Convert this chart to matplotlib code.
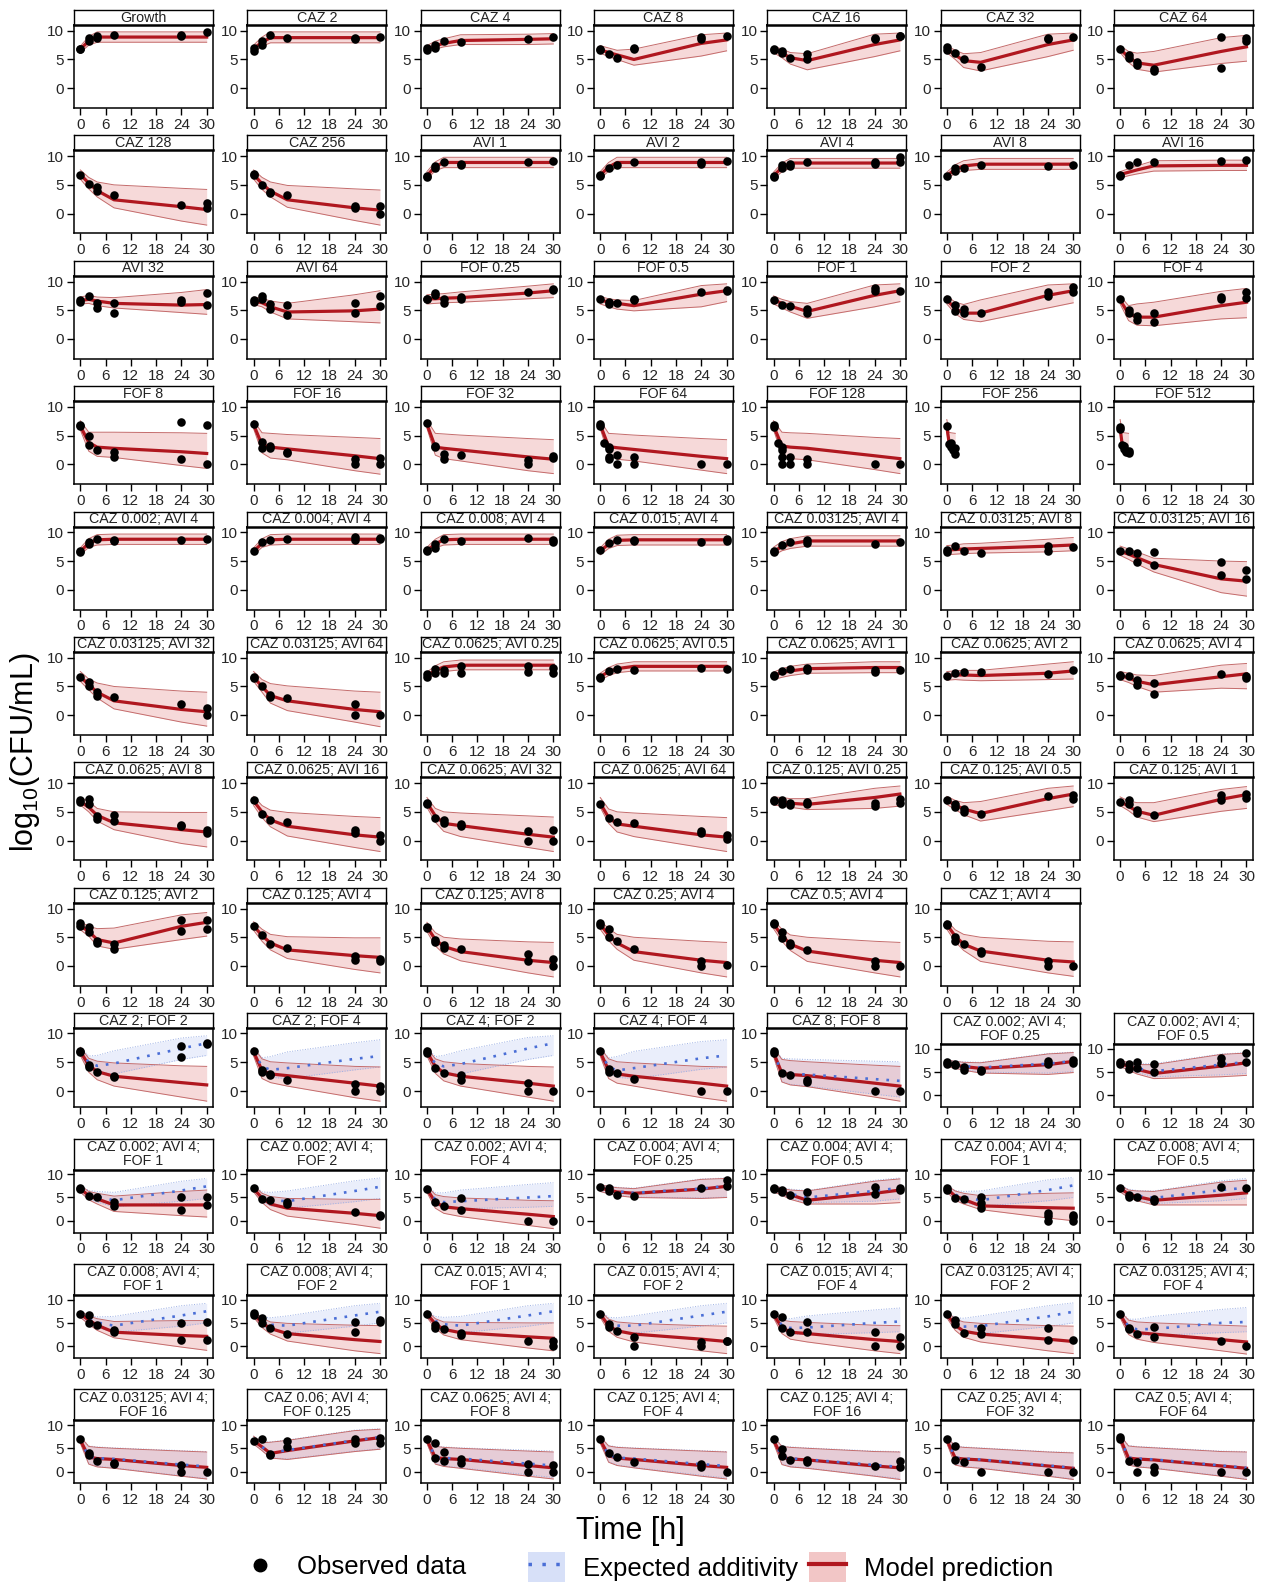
import matplotlib.pyplot as plt
from matplotlib.lines import Line2D
from matplotlib.patches import Patch

plt.rcParams['font.family'] = ['Liberation Sans', 'DejaVu Sans']
plt.rcParams['mathtext.fontset'] = 'custom'
plt.rcParams['mathtext.rm'] = 'Liberation Sans'
plt.rcParams['mathtext.it'] = 'Liberation Sans:italic'

# sampling times of the model curves (h)
times = [0, 2, 4, 8, 24, 30]
times_short = [0, 0.5, 1, 2]
short_panels = ['FOF 256', 'FOF 512']

titles = [
    'Growth', 'CAZ 2', 'CAZ 4', 'CAZ 8', 'CAZ 16', 'CAZ 32', 'CAZ 64',
    'CAZ 128', 'CAZ 256', 'AVI 1', 'AVI 2', 'AVI 4', 'AVI 8', 'AVI 16',
    'AVI 32', 'AVI 64', 'FOF 0.25', 'FOF 0.5', 'FOF 1', 'FOF 2', 'FOF 4',
    'FOF 8', 'FOF 16', 'FOF 32', 'FOF 64', 'FOF 128', 'FOF 256', 'FOF 512',
    'CAZ 0.002; AVI 4', 'CAZ 0.004; AVI 4', 'CAZ 0.008; AVI 4', 'CAZ 0.015; AVI 4',
    'CAZ 0.03125; AVI 4', 'CAZ 0.03125; AVI 8', 'CAZ 0.03125; AVI 16',
    'CAZ 0.03125; AVI 32', 'CAZ 0.03125; AVI 64', 'CAZ 0.0625; AVI 0.25', 'CAZ 0.0625; AVI 0.5',
    'CAZ 0.0625; AVI 1', 'CAZ 0.0625; AVI 2', 'CAZ 0.0625; AVI 4',
    'CAZ 0.0625; AVI 8', 'CAZ 0.0625; AVI 16', 'CAZ 0.0625; AVI 32', 'CAZ 0.0625; AVI 64',
    'CAZ 0.125; AVI 0.25', 'CAZ 0.125; AVI 0.5', 'CAZ 0.125; AVI 1',
    'CAZ 0.125; AVI 2', 'CAZ 0.125; AVI 4', 'CAZ 0.125; AVI 8', 'CAZ 0.25; AVI 4',
    'CAZ 0.5; AVI 4', 'CAZ 1; AVI 4',
    # triple / combination panels (with expected additivity)
    'CAZ 2; FOF 2', 'CAZ 2; FOF 4', 'CAZ 4; FOF 2', 'CAZ 4; FOF 4', 'CAZ 8; FOF 8',
    'CAZ 0.002; AVI 4;\nFOF 0.25', 'CAZ 0.002; AVI 4;\nFOF 0.5',
    'CAZ 0.002; AVI 4;\nFOF 1', 'CAZ 0.002; AVI 4;\nFOF 2', 'CAZ 0.002; AVI 4;\nFOF 4',
    'CAZ 0.004; AVI 4;\nFOF 0.25', 'CAZ 0.004; AVI 4;\nFOF 0.5', 'CAZ 0.004; AVI 4;\nFOF 1',
    'CAZ 0.008; AVI 4;\nFOF 0.5',
    'CAZ 0.008; AVI 4;\nFOF 1', 'CAZ 0.008; AVI 4;\nFOF 2', 'CAZ 0.015; AVI 4;\nFOF 1',
    'CAZ 0.015; AVI 4;\nFOF 2', 'CAZ 0.015; AVI 4;\nFOF 4', 'CAZ 0.03125; AVI 4;\nFOF 2',
    'CAZ 0.03125; AVI 4;\nFOF 4',
    'CAZ 0.03125; AVI 4;\nFOF 16', 'CAZ 0.06; AVI 4;\nFOF 0.125', 'CAZ 0.0625; AVI 4;\nFOF 8',
    'CAZ 0.125; AVI 4;\nFOF 4', 'CAZ 0.125; AVI 4;\nFOF 16', 'CAZ 0.25; AVI 4;\nFOF 32',
    'CAZ 0.5; AVI 4;\nFOF 64',
]

model = [
    [6.8, 8.2, 8.9, 8.9, 8.9, 8.9], [6.9, 8.0, 8.8, 8.8, 8.8, 8.8], [6.8, 7.4, 7.8, 8.3, 8.5, 8.6],
    [6.7, 6.2, 5.8, 5.0, 7.8, 8.4], [6.8, 6.1, 5.3, 4.8, 7.6, 8.4], [6.8, 5.8, 4.8, 4.5, 7.6, 8.4],
    [6.8, 5.4, 4.4, 4.0, 6.4, 7.2],
    [6.8, 5.3, 4.0, 2.4, 1.2, 0.7], [6.8, 5.2, 3.9, 2.4, 1.0, 0.6], [6.6, 8.2, 8.9, 8.9, 8.9, 8.9],
    [6.7, 8.1, 8.9, 8.9, 8.9, 8.9], [6.6, 8.0, 8.8, 8.8, 8.8, 8.8], [6.6, 7.7, 8.3, 8.6, 8.6, 8.6],
    [6.8, 7.2, 7.6, 8.3, 8.4, 8.4],
    [6.7, 6.9, 6.6, 6.2, 5.9, 6.0], [6.6, 6.3, 5.6, 4.7, 4.9, 5.2], [7.0, 7.0, 7.1, 7.2, 8.0, 8.4],
    [6.8, 6.4, 6.2, 5.8, 7.8, 8.4], [6.8, 6.2, 5.7, 4.8, 7.6, 8.4], [6.8, 5.3, 4.5, 4.5, 7.6, 8.4],
    [6.8, 4.4, 3.8, 3.8, 5.8, 6.4],
    [6.7, 3.8, 3.0, 2.8, 2.2, 1.9], [6.9, 3.4, 3.0, 2.7, 1.5, 1.0], [7.0, 3.0, 2.8, 2.5, 1.3, 0.9],
    [6.9, 3.1, 2.9, 2.6, 1.4, 1.0], [6.7, 3.2, 3.0, 2.8, 1.5, 1.0], [6.6, 4.0, 3.3, 2.5],
    [6.3, 3.4, 2.9, 2.2],
    [6.7, 8.1, 8.7, 8.8, 8.8, 8.8], [6.7, 8.1, 8.7, 8.8, 8.8, 8.8], [6.8, 8.0, 8.7, 8.8, 8.8, 8.8],
    [6.8, 7.9, 8.6, 8.7, 8.7, 8.7], [6.7, 7.5, 8.0, 8.5, 8.5, 8.5], [6.9, 7.0, 7.1, 7.2, 7.6, 7.8],
    [6.7, 6.2, 5.6, 4.4, 1.9, 1.5],
    [6.7, 5.3, 4.0, 2.5, 1.0, 0.6], [6.6, 5.0, 3.4, 2.5, 1.0, 0.6], [6.9, 7.8, 8.4, 8.7, 8.7, 8.7],
    [6.7, 7.6, 8.1, 8.5, 8.5, 8.5], [6.9, 7.4, 7.7, 8.1, 8.3, 8.3], [6.9, 7.0, 7.0, 6.9, 7.3, 7.7],
    [6.9, 6.5, 5.9, 5.3, 6.7, 7.2],
    [6.8, 5.8, 4.4, 3.1, 1.9, 1.5], [6.9, 5.0, 3.6, 2.5, 1.0, 0.6], [6.6, 4.3, 3.0, 2.6, 1.1, 0.6],
    [6.5, 4.0, 2.9, 2.5, 1.0, 0.6], [6.9, 6.7, 6.5, 6.3, 7.5, 8.1], [7.0, 6.2, 5.5, 4.7, 7.3, 8.1],
    [6.8, 6.0, 5.1, 4.4, 7.2, 8.0],
    [7.0, 6.0, 4.6, 4.0, 6.9, 7.6], [7.0, 5.3, 4.0, 2.8, 1.8, 1.5], [6.8, 4.6, 3.4, 2.5, 1.0, 0.6],
    [7.2, 5.4, 4.0, 2.5, 1.0, 0.6], [7.3, 5.3, 3.8, 2.6, 1.0, 0.6], [7.2, 5.2, 3.8, 2.6, 1.0, 0.7],
    [6.9, 4.5, 3.4, 2.6, 1.5, 1.1], [6.8, 3.6, 3.0, 2.7, 1.4, 0.9], [6.8, 4.3, 3.2, 2.6, 1.4, 0.9],
    [6.8, 3.6, 3.0, 2.6, 1.4, 0.9], [6.7, 3.1, 2.9, 2.7, 1.4, 0.9], [6.9, 6.5, 6.2, 5.8, 6.6, 7.3],
    [6.9, 6.2, 5.6, 4.7, 6.3, 7.0],
    [6.9, 5.4, 4.7, 3.4, 3.4, 3.4], [6.9, 4.9, 3.6, 2.7, 1.6, 1.1], [6.8, 4.0, 3.0, 2.6, 1.4, 0.9],
    [7.0, 6.6, 6.2, 5.9, 6.8, 7.4], [6.9, 6.3, 5.6, 4.4, 5.9, 6.6], [6.9, 5.3, 4.6, 3.2, 2.8, 2.7],
    [6.9, 5.8, 5.2, 4.4, 5.5, 6.0],
    [6.9, 5.6, 4.5, 3.0, 2.3, 2.1], [6.9, 5.0, 3.8, 2.7, 1.4, 1.0], [6.9, 4.8, 3.6, 2.9, 2.0, 1.7],
    [6.9, 4.4, 3.3, 2.6, 1.5, 1.0], [6.8, 4.0, 3.0, 2.7, 1.4, 1.0], [6.8, 4.5, 3.2, 2.6, 1.5, 1.0],
    [6.8, 3.8, 2.9, 2.6, 1.4, 0.9],
    [6.8, 3.1, 2.8, 2.6, 1.3, 0.9], [6.6, 5.3, 3.9, 4.5, 6.6, 7.3], [6.8, 3.0, 2.8, 2.6, 1.3, 0.8],
    [6.8, 3.4, 2.9, 2.6, 1.3, 0.9], [6.8, 3.1, 2.7, 2.5, 1.2, 0.8], [6.8, 2.9, 2.7, 2.5, 1.2, 0.7],
    [7.1, 2.9, 2.7, 2.5, 1.2, 0.7],
]

model_lo = [
    [6.2, 7.5, 8.0, 8.0, 8.0, 8.0], [6.2, 7.3, 7.9, 7.9, 7.9, 7.9], [6.3, 6.8, 7.2, 7.6, 7.6, 7.7],
    [6.1, 5.5, 5.0, 4.0, 5.6, 6.5], [6.2, 5.3, 4.2, 3.2, 5.5, 6.5], [6.2, 5.0, 3.6, 3.0, 5.5, 6.6],
    [6.2, 4.5, 3.3, 2.8, 4.3, 4.7],
    [6.0, 4.3, 2.9, 1.0, -1.3, -2.0], [6.0, 4.2, 2.9, 1.1, -1.2, -2.0], [6.0, 7.5, 8.0, 8.0, 8.0, 8.0],
    [6.1, 7.4, 8.0, 8.0, 8.0, 8.0], [6.0, 7.3, 7.9, 7.9, 7.9, 7.9], [6.1, 7.0, 7.5, 7.7, 7.7, 7.7],
    [6.2, 6.6, 6.9, 7.4, 7.5, 7.5],
    [6.1, 6.2, 5.8, 5.4, 4.6, 4.3], [6.0, 5.6, 4.7, 3.5, 3.0, 2.8], [6.1, 6.2, 6.3, 6.4, 7.0, 7.2],
    [6.1, 5.6, 5.2, 4.9, 5.6, 6.5], [6.1, 5.4, 4.7, 3.6, 5.6, 6.5], [6.1, 4.4, 3.4, 3.0, 5.4, 6.3],
    [6.1, 3.2, 2.4, 2.3, 3.5, 3.7],
    [6.0, 2.3, 1.4, 1.2, -0.2, -0.7], [6.2, 2.0, 1.1, 0.8, -1.1, -1.7], [6.3, 1.6, 1.0, 0.6, -1.1, -1.6],
    [6.2, 1.6, 0.9, 0.6, -1.0, -1.6], [6.0, 1.7, 1.0, 0.8, -0.9, -1.6], [5.8, 2.8, 2.2, 1.5],
    [5.6, 2.6, 2.0, 1.6],
    [6.1, 7.4, 7.8, 7.9, 7.9, 7.9], [6.1, 7.4, 7.8, 7.9, 7.9, 7.9], [6.1, 7.3, 7.8, 7.9, 7.9, 7.9],
    [6.1, 7.2, 7.7, 7.8, 7.8, 7.8], [6.0, 6.8, 7.2, 7.6, 7.6, 7.6], [6.1, 6.2, 6.3, 6.4, 6.6, 6.8],
    [6.0, 5.3, 4.5, 3.1, -0.5, -1.1],
    [5.9, 4.4, 3.0, 1.1, -1.2, -1.9], [5.9, 4.0, 2.1, 0.8, -1.2, -2.0], [6.3, 7.1, 7.6, 7.9, 7.9, 7.9],
    [6.1, 6.9, 7.4, 7.7, 7.7, 7.7], [6.2, 6.6, 6.9, 7.3, 7.4, 7.4], [6.1, 6.2, 6.1, 6.0, 6.2, 6.3],
    [6.2, 5.7, 5.0, 4.0, 4.7, 4.6],
    [6.2, 5.0, 3.4, 1.9, -0.5, -1.1], [6.1, 4.0, 2.4, 0.8, -1.2, -1.9], [5.8, 3.2, 1.6, 0.7, -1.2, -1.9],
    [5.8, 3.0, 1.5, 0.7, -1.2, -1.9], [6.2, 6.0, 5.8, 5.4, 5.6, 6.0], [6.3, 5.4, 4.5, 3.4, 5.2, 5.9],
    [6.1, 5.2, 4.1, 3.3, 5.1, 5.6],
    [6.3, 5.2, 3.5, 2.9, 4.6, 5.2], [6.2, 4.3, 2.8, 1.3, -0.6, -1.2], [6.0, 3.5, 2.1, 0.9, -1.2, -1.9],
    [6.4, 4.4, 2.9, 1.0, -1.2, -1.9], [6.5, 4.3, 2.7, 0.8, -1.2, -1.9], [6.4, 4.2, 2.7, 0.8, -1.2, -1.8],
    [6.2, 3.3, 2.0, 0.9, -1.0, -1.7], [6.1, 2.2, 1.5, 0.9, -1.1, -1.7], [6.1, 3.1, 1.8, 0.9, -1.0, -1.7],
    [6.1, 2.2, 1.4, 0.9, -1.1, -1.7], [6.0, 1.6, 1.1, 0.8, -1.0, -1.7], [6.2, 5.8, 5.4, 4.8, 4.5, 4.9],
    [6.2, 5.4, 4.6, 3.6, 4.0, 4.3],
    [6.2, 4.5, 3.6, 2.0, 1.1, 0.8], [6.2, 3.9, 2.4, 1.0, -0.8, -1.6], [6.1, 2.7, 1.6, 0.9, -1.0, -1.7],
    [6.3, 5.8, 5.4, 5.0, 4.8, 5.0], [6.2, 5.5, 4.6, 3.6, 3.6, 3.9], [6.2, 4.4, 3.6, 2.4, 0.6, 0.0],
    [6.2, 5.0, 4.3, 3.4, 3.4, 3.4],
    [6.2, 4.7, 3.4, 1.8, -0.2, -0.9], [6.2, 4.0, 2.6, 1.1, -1.0, -1.6], [6.2, 3.8, 2.4, 1.4, -0.4, -1.0],
    [6.2, 3.2, 1.9, 0.9, -1.0, -1.6], [6.1, 2.7, 1.5, 0.9, -1.0, -1.6], [6.1, 3.4, 1.9, 0.9, -1.0, -1.6],
    [6.1, 2.5, 1.5, 0.8, -1.0, -1.7],
    [6.1, 1.6, 1.0, 0.7, -1.0, -1.6], [5.9, 4.5, 2.9, 2.6, 4.3, 4.8], [6.1, 1.6, 1.1, 0.7, -1.0, -1.6],
    [6.1, 2.0, 1.3, 0.8, -1.0, -1.6], [6.1, 1.5, 1.0, 0.7, -1.0, -1.7], [6.1, 1.4, 1.0, 0.7, -1.0, -1.7],
    [6.3, 1.4, 1.0, 0.7, -1.0, -1.7],
]

model_hi = [
    [7.3, 9.0, 9.8, 9.8, 9.8, 9.8], [7.5, 8.9, 9.8, 9.8, 9.8, 9.8], [7.4, 8.2, 8.6, 9.3, 9.4, 9.5],
    [7.4, 7.0, 6.6, 6.8, 9.3, 9.6], [7.3, 6.8, 6.2, 6.0, 9.4, 9.6], [7.4, 6.6, 6.0, 6.2, 9.4, 9.6],
    [7.4, 6.4, 6.1, 6.4, 8.8, 9.2],
    [7.6, 6.3, 5.5, 5.0, 4.4, 4.2], [7.6, 6.3, 5.5, 4.9, 4.3, 4.1], [7.3, 9.0, 9.8, 9.8, 9.8, 9.8],
    [7.3, 8.9, 9.8, 9.8, 9.8, 9.8], [7.2, 8.8, 9.6, 9.6, 9.6, 9.6], [7.2, 8.5, 9.2, 9.6, 9.6, 9.6],
    [7.3, 7.8, 8.3, 9.2, 9.3, 9.3],
    [7.3, 7.6, 7.3, 7.2, 8.1, 8.6], [7.3, 7.1, 6.6, 6.2, 7.7, 8.4], [7.7, 7.8, 7.9, 8.2, 9.2, 9.6],
    [7.4, 7.0, 6.8, 6.7, 9.3, 9.6], [7.5, 6.9, 6.5, 6.2, 9.4, 9.6], [7.5, 6.4, 6.0, 6.8, 9.4, 9.6],
    [7.5, 5.8, 6.1, 6.4, 8.3, 8.8],
    [7.6, 5.6, 5.6, 5.6, 5.5, 5.4], [7.6, 5.5, 5.4, 5.2, 4.7, 4.5], [7.7, 5.4, 5.3, 5.1, 4.5, 4.3],
    [7.6, 5.4, 5.3, 5.1, 4.5, 4.3], [7.6, 5.6, 5.5, 5.4, 4.7, 4.5], [7.8, 5.6, 5.5, 5.4],
    [7.8, 5.6, 5.5, 5.4],
    [7.3, 8.9, 9.6, 9.7, 9.7, 9.7], [7.3, 8.9, 9.6, 9.7, 9.7, 9.7], [7.4, 8.8, 9.6, 9.7, 9.7, 9.7],
    [7.3, 8.8, 9.5, 9.6, 9.6, 9.6], [7.4, 8.4, 8.9, 9.4, 9.4, 9.4], [7.7, 7.8, 8.0, 8.1, 8.8, 9.1],
    [7.6, 7.1, 6.6, 5.5, 5.0, 4.9],
    [7.6, 6.3, 5.6, 5.0, 4.2, 4.0], [7.6, 6.2, 5.5, 5.1, 4.2, 4.0], [7.5, 8.6, 9.3, 9.6, 9.6, 9.6],
    [7.3, 8.3, 8.9, 9.3, 9.3, 9.3], [7.5, 8.1, 8.5, 8.9, 9.3, 9.3], [7.6, 7.7, 7.8, 7.8, 8.9, 9.3],
    [7.6, 7.3, 7.0, 6.9, 8.7, 9.0],
    [7.5, 6.8, 5.6, 5.0, 4.9, 4.9], [7.7, 6.1, 5.3, 4.9, 4.2, 4.0], [7.5, 5.6, 5.0, 4.8, 4.3, 4.1],
    [7.5, 5.5, 5.0, 4.8, 4.2, 4.0], [7.6, 7.5, 7.3, 7.3, 9.1, 9.5], [7.7, 7.0, 6.6, 6.8, 9.1, 9.5],
    [7.6, 6.9, 6.6, 6.6, 8.9, 9.4],
    [7.7, 6.9, 6.5, 6.6, 8.9, 9.3], [7.7, 6.4, 5.5, 5.1, 4.9, 4.9], [7.6, 5.8, 5.0, 4.7, 4.2, 4.1],
    [7.9, 6.5, 5.5, 5.0, 4.3, 4.1], [8.0, 6.4, 5.4, 5.0, 4.3, 4.1], [7.9, 6.3, 5.5, 5.0, 4.3, 4.2],
    [7.6, 5.7, 5.2, 4.9, 4.4, 4.3], [7.5, 5.6, 5.1, 4.9, 4.3, 4.2], [7.5, 5.6, 5.1, 4.8, 4.3, 4.2],
    [7.5, 5.6, 5.1, 4.9, 4.3, 4.2], [7.5, 5.5, 5.3, 5.1, 4.5, 4.3], [7.6, 7.3, 7.1, 7.0, 8.9, 9.2],
    [7.6, 7.0, 6.6, 6.6, 8.8, 9.1],
    [7.6, 6.3, 5.9, 5.3, 6.3, 6.6], [7.6, 5.9, 5.2, 4.8, 4.6, 4.6], [7.5, 5.6, 5.2, 4.9, 4.4, 4.3],
    [7.7, 7.4, 7.1, 6.9, 8.9, 9.1], [7.6, 7.0, 6.6, 6.4, 8.5, 9.0], [7.6, 6.4, 5.9, 5.4, 5.9, 6.0],
    [7.6, 6.6, 6.4, 6.3, 8.3, 8.7],
    [7.6, 6.5, 5.9, 5.3, 5.5, 5.5], [7.6, 6.0, 5.2, 4.9, 4.5, 4.4], [7.6, 5.9, 5.2, 5.1, 5.0, 5.0],
    [7.6, 5.8, 5.2, 4.9, 4.4, 4.3], [7.5, 5.6, 5.3, 5.1, 4.5, 4.4], [7.5, 5.8, 5.2, 4.9, 4.4, 4.3],
    [7.5, 5.6, 5.2, 5.0, 4.5, 4.3],
    [7.5, 5.4, 5.2, 5.0, 4.4, 4.2], [7.6, 6.2, 6.3, 6.7, 8.8, 9.1], [7.5, 5.4, 5.2, 5.0, 4.4, 4.2],
    [7.5, 5.5, 5.2, 5.0, 4.4, 4.2], [7.5, 5.4, 5.2, 5.0, 4.3, 4.2], [7.5, 5.4, 5.2, 5.0, 4.2, 4.0],
    [7.8, 5.5, 5.3, 5.1, 4.3, 4.2],
]

# expected additivity, one entry per combination panel (last 28 titles)
expected = [
    [6.9, 5.0, 4.4, 4.8, 7.4, 8.3], [6.8, 4.3, 3.7, 4.0, 5.6, 6.1], [6.8, 4.8, 4.3, 4.7, 7.4, 8.3],
    [6.8, 4.2, 3.6, 4.0, 5.7, 6.2], [6.7, 3.2, 3.0, 2.9, 2.1, 1.8], [6.9, 6.6, 6.3, 6.0, 6.8, 7.4],
    [6.9, 6.3, 5.8, 5.2, 6.6, 7.2],
    [6.9, 5.6, 5.1, 4.4, 6.5, 7.4], [6.9, 5.1, 4.4, 4.2, 6.4, 7.3], [6.8, 4.6, 4.0, 4.2, 5.0, 5.3],
    [7.0, 6.6, 6.3, 6.0, 6.9, 7.5], [6.9, 6.3, 5.8, 5.0, 6.4, 7.1], [6.9, 5.6, 5.1, 4.4, 6.6, 7.6],
    [6.9, 5.9, 5.4, 4.9, 6.6, 7.1],
    [6.9, 5.8, 5.1, 4.4, 6.6, 7.5], [6.9, 5.3, 4.6, 4.4, 6.6, 7.4], [6.9, 5.4, 4.7, 4.4, 6.6, 7.5],
    [6.9, 5.2, 4.4, 4.4, 6.6, 7.4], [6.8, 4.5, 3.9, 4.0, 5.0, 5.3], [6.8, 5.0, 4.2, 4.3, 6.4, 7.4],
    [6.8, 4.3, 3.6, 3.7, 5.0, 5.2],
    [6.8, 3.2, 2.9, 2.7, 1.5, 1.1], [6.6, 5.3, 4.0, 4.6, 6.7, 7.4], [6.8, 3.1, 2.9, 2.8, 1.7, 1.3],
    [6.8, 3.5, 3.0, 2.8, 1.6, 1.2], [6.8, 3.2, 2.8, 2.6, 1.4, 1.0], [6.8, 3.0, 2.8, 2.6, 1.3, 0.8],
    [7.1, 3.0, 2.8, 2.6, 1.3, 0.8],
]

expected_lo = [
    [6.2, 4.0, 3.3, 3.0, 5.5, 6.2], [6.1, 3.2, 2.4, 2.2, 3.7, 4.2], [6.1, 3.8, 3.1, 3.0, 5.5, 6.2],
    [6.1, 3.2, 2.4, 2.2, 3.8, 4.2], [6.0, 1.7, 1.2, 0.9, -0.5, -1.0], [6.2, 5.9, 5.5, 5.0, 4.8, 5.1],
    [6.2, 5.5, 4.9, 4.0, 4.4, 4.7],
    [6.2, 4.7, 4.0, 3.0, 4.2, 4.8], [6.2, 4.1, 3.2, 2.7, 4.1, 4.8], [6.1, 3.5, 2.7, 2.6, 2.9, 3.1],
    [6.3, 5.9, 5.5, 5.1, 4.9, 5.1], [6.2, 5.5, 4.8, 3.9, 4.2, 4.7], [6.2, 4.7, 4.0, 3.1, 4.3, 5.0],
    [6.2, 5.1, 4.5, 3.7, 4.3, 4.8],
    [6.2, 4.9, 4.0, 3.0, 4.3, 5.0], [6.2, 4.3, 3.4, 2.8, 4.3, 5.0], [6.2, 4.4, 3.5, 2.9, 4.3, 5.0],
    [6.2, 4.2, 3.2, 2.8, 4.3, 5.0], [6.1, 3.4, 2.6, 2.5, 2.9, 3.1], [6.1, 4.0, 3.0, 2.7, 4.2, 5.0],
    [6.1, 3.2, 2.4, 2.3, 2.9, 3.1],
    [6.1, 1.7, 1.1, 0.8, -0.9, -1.5], [5.9, 4.5, 3.0, 2.7, 4.4, 4.9], [6.1, 1.7, 1.2, 0.8, -0.7, -1.3],
    [6.1, 2.1, 1.4, 0.9, -0.8, -1.4], [6.1, 1.6, 1.1, 0.8, -0.9, -1.5], [6.1, 1.5, 1.1, 0.8, -0.9, -1.6],
    [6.3, 1.5, 1.1, 0.8, -0.9, -1.6],
]

expected_hi = [
    [7.6, 6.1, 6.2, 7.0, 9.2, 9.6], [7.5, 5.8, 6.0, 6.8, 8.4, 8.9], [7.5, 6.0, 6.2, 7.0, 9.3, 9.6],
    [7.5, 5.8, 6.0, 6.9, 8.6, 8.9], [7.5, 5.7, 5.6, 5.5, 5.2, 5.1], [7.6, 7.4, 7.2, 7.1, 9.0, 9.3],
    [7.6, 7.1, 6.8, 6.8, 8.9, 9.2],
    [7.6, 6.5, 6.3, 6.1, 8.5, 9.1], [7.6, 6.2, 6.1, 6.4, 8.6, 9.2], [7.5, 6.0, 6.0, 6.6, 7.8, 8.2],
    [7.7, 7.5, 7.2, 7.0, 9.0, 9.2], [7.6, 7.1, 6.8, 6.5, 8.7, 9.2], [7.6, 6.5, 6.3, 6.4, 8.8, 9.3],
    [7.6, 6.8, 6.5, 6.4, 8.6, 9.1],
    [7.6, 6.6, 6.3, 6.4, 8.7, 9.2], [7.6, 6.3, 6.1, 6.5, 8.7, 9.2], [7.6, 6.4, 6.2, 6.4, 8.7, 9.2],
    [7.6, 6.2, 6.1, 6.5, 8.7, 9.2], [7.5, 5.9, 5.9, 6.5, 7.8, 8.2], [7.5, 6.1, 6.0, 6.5, 8.7, 9.3],
    [7.5, 5.8, 5.8, 6.4, 7.9, 8.3],
    [7.5, 5.5, 5.3, 5.1, 4.5, 4.3], [7.6, 6.3, 6.4, 6.8, 8.9, 9.2], [7.5, 5.5, 5.3, 5.1, 4.6, 4.4],
    [7.5, 5.6, 5.3, 5.1, 4.5, 4.3], [7.5, 5.5, 5.3, 5.1, 4.4, 4.3], [7.5, 5.5, 5.3, 5.1, 4.3, 4.1],
    [7.8, 5.6, 5.4, 5.2, 4.4, 4.3],
]

# observed log10 CFU/mL: [time, replicate values...]
observed = [
    [[0, 6.9, 6.8], [2, 8.3, 8.7], [4, 9.1, 8.8], [8, 9.2], [24, 9.2, 9.1], [30, 9.8]],
    [[0, 7.0, 6.5], [2, 8.2, 7.6], [4, 9.2], [8, 8.8], [24, 8.8, 8.6], [30, 8.9]],
    [[0, 7.0, 6.7], [2, 7.5, 7.0], [4, 8.2], [8, 8.1], [24, 8.6], [30, 8.9]],
    [[0, 6.8, 6.6], [2, 6.0], [4, 5.3], [8, 7.0, 6.9], [24, 8.9, 8.6], [30, 9.0]],
    [[0, 6.9, 6.6], [2, 6.4, 6.1], [4, 5.2], [8, 5.9, 5.1], [24, 8.8, 8.6], [30, 9.1, 9.0]],
    [[0, 7.1, 6.7], [2, 6.2], [4, 5.0], [8, 3.7], [24, 8.8, 8.6], [30, 8.9]],
    [[0, 6.9], [2, 5.8, 5.3], [4, 4.5, 4.1], [8, 3.3, 3.0], [24, 8.9, 3.5], [30, 8.8, 8.3]],
    [[0, 6.8], [2, 5.2], [4, 4.6, 3.9], [8, 3.3], [24, 1.5], [30, 1.9, 1.0]],
    [[0, 6.9, 6.7], [2, 5.0], [4, 3.8, 3.6], [8, 3.3], [24, 1.3, 0.9], [30, 1.3, 0.0]],
    [[0, 6.5, 6.3], [2, 8.2, 7.9], [4, 8.9], [8, 8.7, 8.4], [24, 9.0], [30, 9.2]],
    [[0, 6.8, 6.5], [2, 7.9], [4, 8.5], [8, 9.0], [24, 9.0, 8.7], [30, 9.2]],
    [[0, 6.6, 6.4], [2, 8.5, 7.9], [4, 8.7, 8.3], [8, 8.9], [24, 8.9, 8.6], [30, 9.8, 8.9]],
    [[0, 6.5], [2, 8.0, 7.4], [4, 8.0], [8, 8.5], [24, 8.2], [30, 8.5]],
    [[0, 6.7, 6.5], [2, 8.4], [4, 8.9], [8, 9.0], [24, 9.2], [30, 9.4]],
    [[0, 6.8, 6.5], [2, 7.5], [4, 6.3, 5.4], [8, 6.3, 4.5], [24, 6.7, 6.4], [30, 8.0, 6.0]],
    [[0, 6.8, 6.4], [2, 7.4, 7.0], [4, 6.1, 5.3], [8, 5.9, 4.2], [24, 6.2, 4.6], [30, 7.5, 5.8]],
    [[0, 7.0, 6.9], [2, 8.0, 7.6], [4, 6.9, 6.2], [8, 7.3, 6.9], [24, 8.2], [30, 8.7, 8.5]],
    [[0, 6.9], [2, 6.4, 6.1], [4, 6.3], [8, 7.0, 6.8], [24, 8.2], [30, 8.6, 8.4]],
    [[0, 6.8], [2, 6.0], [4, 5.8], [8, 5.2, 4.5], [24, 8.8, 8.4], [30, 8.4]],
    [[0, 6.9], [2, 6.0, 4.9], [4, 5.2, 4.5], [8, 4.5], [24, 8.2, 7.5], [30, 9.0, 8.1]],
    [[0, 6.9], [2, 5.0, 4.5], [4, 4.0, 3.3], [8, 4.5, 3.0], [24, 7.3, 6.9], [30, 8.1, 7.2]],
    [[0, 6.8, 6.6], [2, 5.0, 3.4], [4, 2.5], [8, 2.2, 1.3], [24, 7.4, 1.0], [30, 6.9, 0.0]],
    [[0, 7.0], [2, 3.9, 2.9], [4, 3.2, 2.9], [8, 2.2, 2.0], [24, 0.9, 0.0], [30, 1.1, 0.0]],
    [[0, 7.2], [2, 3.2, 3.0], [4, 1.8, 0.9], [8, 1.7], [24, 0.8, 0.0], [30, 1.5, 1.1]],
    [[0, 7.0, 6.6], [1, 3.8], [2, 3.0, 2.6, 1.3, 1.0], [4, 1.7, 0.0], [8, 1.3, 0.0], [24, 0.0], [30, 0.0]],
    [[0, 6.8, 6.5], [1, 3.7], [2, 3.0, 2.5, 1.3, 0.0], [4, 1.3, 0.0], [8, 1.0, 0.0], [24, 0.0], [30, 0.0]],
    [[0, 6.6], [0.5, 3.6], [1, 3.7, 3.0], [1.5, 2.5], [2, 2.8, 1.8]],
    [[0, 6.5, 6.2], [0.5, 3.4], [1, 3.2, 2.6], [1.5, 2.4, 2.2], [2, 2.3, 2.0]],
    [[0, 6.8, 6.6], [2, 8.4, 8.0], [4, 8.8], [8, 8.7, 8.5], [24, 8.6], [30, 8.8]],
    [[0, 6.8], [2, 8.4], [4, 8.6], [8, 8.8], [24, 9.2, 8.6], [30, 9.0, 8.8]],
    [[0, 6.9, 6.7], [2, 7.9, 7.2], [4, 8.8], [8, 8.5], [24, 9.0], [30, 8.7, 8.3]],
    [[0, 6.9], [2, 8.2], [4, 8.6], [8, 8.7, 8.5], [24, 8.4], [30, 8.9, 8.5]],
    [[0, 6.8, 6.6], [2, 7.8], [4, 8.3], [8, 8.6, 8.2], [24, 8.0], [30, 8.4]],
    [[0, 6.9, 6.5], [2, 7.7], [4, 6.8], [8, 6.4], [24, 7.6, 6.7], [30, 7.5]],
    [[0, 6.7], [2, 6.8], [4, 6.4, 4.8], [8, 6.5, 4.3], [24, 4.9, 2.6], [30, 3.4, 1.9]],
    [[0, 6.7], [2, 5.7, 5.0], [4, 4.1, 3.4], [8, 3.2], [24, 1.9], [30, 1.3, 0.0]],
    [[0, 6.6, 6.4], [2, 5.0], [4, 3.6, 3.1], [8, 3.0], [24, 1.9, 0.0], [30, 0.0]],
    [[0, 7.1, 6.7], [2, 8.0, 7.4], [4, 7.9, 7.4], [8, 8.6, 7.4], [24, 8.6, 7.6], [30, 8.2, 7.4]],
    [[0, 6.6, 6.5], [2, 7.7], [4, 8.0], [8, 7.9], [24, 8.2], [30, 8.1]],
    [[0, 7.0, 6.8], [2, 7.7], [4, 8.1], [8, 8.2, 7.9], [24, 7.9, 7.6], [30, 7.8]],
    [[0, 6.8], [2, 7.4], [4, 7.5], [8, 7.5], [24, 7.2], [30, 7.9]],
    [[0, 7.0, 6.8], [2, 6.9], [4, 6.1, 5.3], [8, 5.6, 3.7], [24, 7.2], [30, 6.8, 6.5]],
    [[0, 7.0, 6.8], [2, 7.3, 6.4], [4, 4.3, 3.8], [8, 4.4, 3.4], [24, 2.7, 2.5], [30, 1.9, 1.3]],
    [[0, 7.1], [2, 4.6], [4, 3.5], [8, 3.2], [24, 1.8, 1.4], [30, 0.9, 0.0]],
    [[0, 6.6, 6.4], [2, 4.0], [4, 3.5, 3.0], [8, 2.9, 2.6], [24, 1.6, 0.0], [30, 1.8, 0.0]],
    [[0, 6.4], [2, 4.0], [4, 3.3], [8, 3.0], [24, 1.7, 1.3], [30, 0.9, 0.2]],
    [[0, 7.0, 6.9], [2, 7.0, 6.4], [4, 6.5, 6.2], [8, 6.8, 6.3], [24, 6.5, 6.0], [30, 7.2, 6.5]],
    [[0, 7.1], [2, 6.3, 5.9], [4, 5.5, 5.0], [8, 4.6], [24, 7.8], [30, 7.9, 7.3]],
    [[0, 6.7], [2, 7.0, 6.3], [4, 5.4, 4.8], [8, 4.4], [24, 8.0, 7.1], [30, 8.1, 7.4]],
    [[0, 7.4, 6.9], [2, 6.8, 6.0], [4, 4.3, 4.0], [8, 3.8, 2.9], [24, 8.0, 6.1], [30, 8.0, 6.4]],
    [[0, 7.0], [2, 5.4], [4, 3.9], [8, 3.2], [24, 1.8, 1.0], [30, 1.2, 0.9]],
    [[0, 6.8, 6.6], [2, 4.5, 4.1], [4, 3.6, 3.2], [8, 3.0], [24, 2.1, 0.9], [30, 1.3, 0.0]],
    [[0, 7.4, 7.2], [2, 6.5, 5.1], [4, 4.3], [8, 3.0], [24, 0.8, 0.0], [30, 0.2]],
    [[0, 7.5, 7.3], [2, 5.9, 4.8], [4, 4.0, 3.6], [8, 2.8], [24, 0.9, 0.0], [30, 0.0]],
    [[0, 7.3, 7.1], [2, 5.0, 4.4], [4, 3.8], [8, 2.6, 2.3], [24, 0.9, 0.0], [30, 0.0]],
    [[0, 7.0, 6.8], [2, 4.6, 4.2], [4, 3.3], [8, 2.6, 2.4], [24, 7.8, 5.9], [30, 8.3, 8.2]],
    [[0, 6.9], [2, 3.6, 3.3], [4, 3.0, 2.9], [8, 1.9], [24, 1.3, 0.0], [30, 0.9, 0.0]],
    [[0, 6.9, 6.6], [2, 4.1], [4, 3.2], [8, 2.8, 2.0], [24, 1.4, 0.0], [30, 0.0]],
    [[0, 6.9], [2, 3.9, 3.4], [4, 3.2], [8, 2.2], [24, 0.0], [30, 0.0]],
    [[0, 6.9, 6.6], [2, 3.2], [4, 2.8], [8, 2.0, 1.6], [24, 0.0], [30, 0.0]],
    [[0, 7.1, 6.7], [2, 6.8, 6.5], [4, 6.0, 5.5], [8, 5.5, 5.2], [24, 7.3, 6.8], [30, 7.6, 6.9]],
    [[0, 7.1, 6.8], [2, 6.8, 5.7], [4, 7.1, 5.8], [8, 6.8, 5.1], [24, 8.1, 7.0], [30, 9.0, 7.1]],
    [[0, 7.0, 6.8], [2, 5.3], [4, 5.1], [8, 4.0, 3.2], [24, 5.1, 2.4], [30, 5.1, 3.3]],
    [[0, 7.0], [2, 4.6], [4, 4.4], [8, 4.1, 3.6], [24, 1.8], [30, 1.3, 1.0]],
    [[0, 6.8], [2, 4.0], [4, 3.1], [8, 4.8, 2.3], [24, 0.0], [30, 0.0]],
    [[0, 7.2], [2, 7.0, 6.3], [4, 5.6], [8, 5.4], [24, 7.0], [30, 8.7, 7.4]],
    [[0, 7.0, 6.8], [2, 6.6, 6.1], [4, 5.6], [8, 6.1, 4.3], [24, 7.2, 5.7], [30, 7.0, 6.7]],
    [[0, 7.1, 6.6], [2, 4.8], [4, 4.6], [8, 5.2, 3.9, 2.7], [24, 1.6, 1.0, 0.0], [30, 1.3, 0.7, 0.0]],
    [[0, 7.0], [2, 5.5, 5.1], [4, 5.1], [8, 4.7, 4.2], [24, 7.2], [30, 7.1]],
    [[0, 7.0], [2, 6.8, 5.0], [4, 4.5], [8, 3.5, 3.1], [24, 5.0, 1.3], [30, 5.2, 1.3]],
    [[0, 7.1, 6.6], [2, 6.0, 5.0], [4, 4.0], [8, 2.7], [24, 5.1, 3.1], [30, 5.6, 5.2]],
    [[0, 7.0], [2, 4.6, 4.0], [4, 3.6], [8, 2.9, 2.3], [24, 1.1], [30, 1.2, 0.0]],
    [[0, 6.9], [2, 4.7, 4.2], [4, 3.3], [8, 2.0, 0.0], [24, 0.8, 0.0], [30, 1.2, 1.0]],
    [[0, 6.9], [2, 6.2, 3.8], [4, 3.1], [8, 5.1, 3.0], [24, 3.1, 0.0], [30, 1.9, 0.0]],
    [[0, 6.9], [2, 5.6, 4.7], [4, 2.9], [8, 3.8, 2.6], [24, 3.9, 1.4], [30, 1.4]],
    [[0, 6.9], [2, 3.9, 3.6], [4, 2.6], [8, 4.2, 1.9], [24, 1.0], [30, 0.0]],
    [[0, 6.9], [2, 4.0, 3.5], [4, 2.2], [8, 1.9, 1.7], [24, 1.5, 0.0], [30, 0.0]],
    [[0, 6.5], [2, 6.9], [4, 3.8, 3.6], [8, 6.6, 5.2], [24, 7.0, 6.1], [30, 7.3, 6.2]],
    [[0, 7.0], [2, 6.1, 3.0], [4, 4.2, 2.2], [8, 2.6, 1.9], [24, 1.7, 0.0], [30, 1.3, 0.0]],
    [[0, 6.9], [2, 4.0], [4, 3.2], [8, 2.0], [24, 1.6, 0.9], [30, 0.0]],
    [[0, 6.9], [2, 4.8, 3.3], [4, 2.4], [8, 2.4, 2.1], [24, 1.1], [30, 2.2, 1.0]],
    [[0, 7.0], [2, 5.6, 2.4], [4, 2.0], [8, 0.0], [24, 0.0], [30, 0.0]],
    [[0, 7.5, 6.9], [2, 2.2], [4, 2.1, 0.0], [8, 1.0, 0.0], [24, 0.0], [30, 0.0]],
]

n_single = 55  # panels before the combination block

W, H = 1262, 1582
fig = plt.figure(figsize=(W / 100, H / 100), dpi=100)


def px_box(left, top, width, height):
    return [left / W, 1 - (top + height) / H, width / W, height / H]


RED = '#b0171f'
RED_FILL = '#d64545'
RED_EDGE = '#c46b6b'
BLUE = '#4a6ed6'
BLUE_FILL = '#7d9be8'

for i, title in enumerate(titles):
    if i < n_single:
        r, c = divmod(i, 7)
    else:
        r, c = divmod(i - n_single, 7)
        r += 8
    left = 74 + 173.3 * c
    top = 10 + 125.4 * r
    two_lines = '\n' in title
    strip_h = 31 if two_lines else 15
    bottom = top + (98 if r < 8 else 94)
    if r < 8:
        ylim = (-3.45, 11.0)
    elif two_lines:
        ylim = (-2.55, 11.0)
    else:
        ylim = (-2.75, 10.9)

    t = times_short if title in short_panels else times

    ax = fig.add_axes(px_box(left, top + strip_h, 139, bottom - top - strip_h))
    if i >= n_single:
        j = i - n_single
        ax.fill_between(t, expected_lo[j], expected_hi[j], color=BLUE_FILL, alpha=0.16, lw=0)
        ax.plot(t, expected_lo[j], color='#9db0e4', lw=0.7, ls=':')
        ax.plot(t, expected_hi[j], color='#9db0e4', lw=0.7, ls=':')
    ax.fill_between(t, model_lo[i], model_hi[i], color=RED_FILL, alpha=0.2, lw=0)
    ax.plot(t, model_lo[i], color=RED_EDGE, lw=0.7)
    ax.plot(t, model_hi[i], color=RED_EDGE, lw=0.7)
    ax.plot(t, model[i], color=RED, lw=2.3)
    if i >= n_single:
        ax.plot(t, expected[j], color=BLUE, lw=1.9, ls=(0, (1, 3)))
    for row in observed[i]:
        ax.scatter([row[0]] * (len(row) - 1), row[1:], s=38, color='black', lw=0, zorder=5)

    ax.set_xlim(-1.5, 31.5)
    ax.set_ylim(*ylim)
    ax.set_xticks([0, 6, 12, 18, 24, 30])
    ax.set_yticks([0, 5, 10])
    ax.tick_params(direction='out', length=5, width=1.0, labelsize=11,
                   labelcolor='#262626', pad=2)
    for sp in ax.spines.values():
        sp.set_linewidth(1.1)

    sax = fig.add_axes(px_box(left, top, 139, strip_h))
    sax.set_xticks([])
    sax.set_yticks([])
    for sp in sax.spines.values():
        sp.set_linewidth(1.0)
    sax.spines['bottom'].set_linewidth(1.8)
    sax.text(0.5, 0.5, title, ha='center', va='center', fontsize=10.3,
             color='#222222', linespacing=1.0, transform=sax.transAxes)

fig.text(25 / W, 1 - 752 / H, r'log$_{10}$(CFU/mL)', rotation=90,
         fontsize=22, ha='center', va='center')
fig.text(630 / W, 1 - 1531 / H, 'Time [h]', fontsize=22, ha='center', va='center')

obs_handle = Line2D([], [], ls='none', marker='o', color='black', markersize=9)
exp_handle = (Patch(facecolor=BLUE_FILL, alpha=0.3, lw=0),
              Line2D([], [], color=BLUE, lw=2.5, ls=(0, (1, 3))))
mod_handle = (Patch(facecolor=RED_FILL, alpha=0.3, lw=0),
              Line2D([], [], color=RED, lw=3))
fig.legend([obs_handle], ['Observed data'], loc='center left',
           bbox_to_anchor=(248 / W, 1 - 1567 / H), frameon=False, fontsize=18.5,
           borderpad=0, borderaxespad=0, handlelength=0.95, handletextpad=0.95)
fig.legend([exp_handle, mod_handle], ['Expected additivity', 'Model prediction'],
           loc='center left', bbox_to_anchor=(528 / W, 1 - 1567 / H), ncol=2,
           frameon=False, fontsize=18.5, borderpad=0, borderaxespad=0,
           handlelength=1.45, handleheight=1.45, handletextpad=0.7, columnspacing=0.4)

fig.savefig('out.png', dpi=100)
